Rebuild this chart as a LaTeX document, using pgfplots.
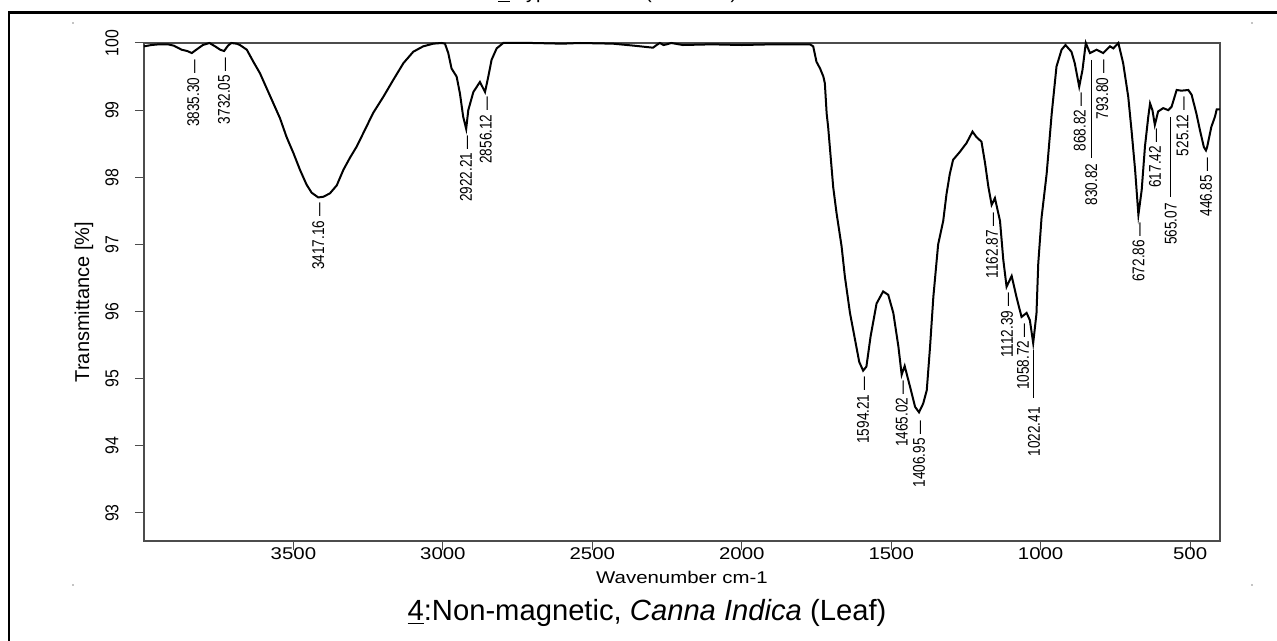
\documentclass[border=0pt]{standalone}
\usepackage{fontspec}
\setmainfont{Liberation Sans}
\newfontfamily\wfont[FakeStretch=1.2]{Liberation Sans}
\newfontfamily\nfont[FakeStretch=0.8]{Liberation Sans}
\newfontfamily\yfont[FakeStretch=0.85]{Liberation Sans}
\usepackage{pgfplots}
\usepackage{pgfplotstable}
\pgfplotsset{compat=1.18}
\pgfplotstableread{
x y
4000 99.95
3975 99.97
3950 99.98
3920 99.98
3900 99.96
3874 99.90
3855 99.88
3840 99.85
3825 99.90
3803 99.97
3781 100.0
3762 99.95
3745 99.90
3732 99.88
3719 99.96
3708 100.0
3690 99.99
3679 99.97
3656 99.90
3634 99.72
3612 99.55
3590 99.33
3567 99.10
3545 98.88
3523 98.60
3500 98.36
3478 98.11
3456 97.89
3439 97.77
3417 97.70
3400 97.71
3378 97.76
3355 97.88
3333 98.11
3311 98.29
3288 98.46
3266 98.66
3233 98.96
3199 99.20
3166 99.45
3132 99.70
3099 99.87
3066 99.95
3032 99.99
3004 100.0
2993 99.99
2982 99.85
2971 99.62
2954 99.50
2943 99.25
2932 98.90
2922 98.72
2915 99.00
2898 99.27
2876 99.42
2859 99.27
2848 99.50
2837 99.75
2820 99.92
2798 100.0
2700 100.0
2600 99.99
2541 100.0
2431 99.99
2360 99.96
2297 99.93
2285 99.97
2274 100.0
2262 99.97
2251 99.98
2236 100.0
2197 99.97
2100 99.98
2000 99.97
1900 99.98
1800 99.98
1772 99.98
1761 99.95
1750 99.72
1738 99.62
1727 99.50
1722 99.40
1716 98.95
1711 98.75
1694 97.85
1683 97.47
1666 96.97
1655 96.52
1638 95.98
1621 95.58
1607 95.25
1594 95.12
1583 95.18
1569 95.63
1549 96.12
1527 96.30
1510 96.25
1493 95.98
1476 95.48
1465 95.06
1455 95.19
1437 94.88
1420 94.58
1407 94.50
1393 94.63
1381 94.83
1370 95.48
1359 96.22
1343 97.00
1326 97.35
1315 97.75
1304 98.05
1293 98.26
1270 98.38
1248 98.51
1228 98.68
1215 98.60
1198 98.53
1186 98.21
1175 97.86
1164 97.59
1153 97.69
1136 97.35
1125 96.77
1114 96.37
1097 96.53
1081 96.22
1064 95.92
1047 95.98
1036 95.87
1025 95.53
1014 95.97
1008 96.72
997 97.40
980 98.05
963 98.95
947 99.65
930 99.90
917 99.97
897 99.87
886 99.70
871 99.35
860 99.60
849 100.0
835 99.85
813 99.90
791 99.85
768 99.95
757 99.92
740 100.0
724 99.70
707 99.20
696 98.70
684 98.11
673 97.44
662 97.81
651 98.46
640 98.90
634 99.10
626 99.00
618 98.78
607 98.98
590 99.03
573 99.00
562 99.05
545 99.30
529 99.29
506 99.30
495 99.23
479 98.95
467 98.70
454 98.45
447 98.40
443 98.45
429 98.75
417 98.90
411 99.01
400 99.01
}\spectrum
\begin{document}
\begin{tikzpicture}
\path[use as bounding box] (0,0) rectangle (638.5pt,320.5pt);
\begin{scope}[x=0.5pt,y=-0.5pt,yshift=320.5pt]
\draw[line width=1.4pt] (8,12.5) -- (1280,12.5);
\draw[line width=1pt] (9,12.5) -- (9,645);
\fill (73,23) circle (0.6);
\fill (1252,23) circle (0.6);
\fill (73,585) circle (0.6);
\fill (1252,585) circle (0.6);
\node[anchor=base west,inner sep=0pt,font=\fontsize{10}{12}\selectfont] at (498,-1.5) {\underline{3}:Typha \textit{minima} (Rhizome)};
\node[anchor=base,inner sep=0pt,font=\fontsize{14.6}{16}\selectfont] at (647,621) {\underline{4}:Non-magnetic, \textit{Canna Indica} (Leaf)};
\end{scope}
\begin{axis}[
  at={(72pt,50pt)}, anchor=south west,
  scale only axis, width=538pt, height=249pt,
  x dir=reverse, xmin=400, xmax=4000, ymin=92.583, ymax=100,
  xtick={500,1000,...,3500}, ytick={93,94,...,100},
  /pgf/number format/.cd, 1000 sep={}, assume math mode=true, /pgfplots/.cd,
  xtick pos=left, ytick pos=left, tick align=outside,
  major tick length=4.5pt,
  tick style={gray!60!black, line width=0.5pt},
  axis line style={gray!60!black, line width=0.6pt},
  clip=false,
  xticklabel style={font=\wfont\fontsize{8.5}{10}\selectfont, inner sep=0pt},
  xticklabel shift=-1.5pt,
  yticklabel style={font=\yfont\fontsize{9.3}{10}\selectfont, rotate=90, anchor=south, inner sep=0pt},
  yticklabel shift=8pt,
  xlabel={Wavenumber cm-1},
  xlabel style={font=\wfont\fontsize{8.5}{10}\selectfont, at={(axis description cs:0.5,0)}, anchor=center, yshift=-18pt},
  ylabel={Transmittance [\%]},
  ylabel style={font=\fontsize{10}{12}\selectfont, at={(axis description cs:-0.0558,0.48)}, anchor=center},
]
\addplot[black, line width=1pt, mark=none] table[x=x,y=y] {\spectrum};
\begin{scope}[every node/.style={rotate=90, anchor=east, inner sep=0pt, font=\nfont\fontsize{8.5}{10}\selectfont}]
\node at (axis cs:3835.30,99.75) {3835.30 —};
\node at (axis cs:3732.05,99.79) {3732.05 —};
\node at (axis cs:3417.16,97.62) {3417.16 —};
\node at (axis cs:2922.21,98.63) {2922.21 —};
\node at (axis cs:2856.12,99.20) {2856.12 —};
\node at (axis cs:1594.21,95.03) {1594.21 —};
\node at (axis cs:1465.02,94.98) {1465.02 —};
\node at (axis cs:1406.95,94.38) {1406.95 —};
\node at (axis cs:1162.87,97.48) {1162.87 —};
\node at (axis cs:1112.39,96.28) {1112.39 —};
\node at (axis cs:1058.72,95.83) {1058.72 —};
\node at (axis cs:1022.41,94.58) {1022.41};
\node at (axis cs:868.82,99.27) {868.82 —};
\node at (axis cs:830.82,98.21) {830.82};
\node at (axis cs:793.80,99.75) {793.80 —};
\node at (axis cs:672.86,97.33) {672.86 —};
\node at (axis cs:617.42,98.73) {617.42 —};
\node at (axis cs:565.07,97.62) {565.07};
\node at (axis cs:525.12,99.20) {525.12 —};
\node at (axis cs:446.85,98.30) {446.85 —};
\end{scope}
\draw[black, line width=0.5pt] (axis cs:1022.41,95.43) -- (axis cs:1022.41,94.72);
\draw[black, line width=0.5pt] (axis cs:830.82,99.75) -- (axis cs:830.82,98.29);
\draw[black, line width=0.5pt] (axis cs:565.07,98.90) -- (axis cs:565.07,97.71);
\end{axis}
\end{tikzpicture}
\end{document}
